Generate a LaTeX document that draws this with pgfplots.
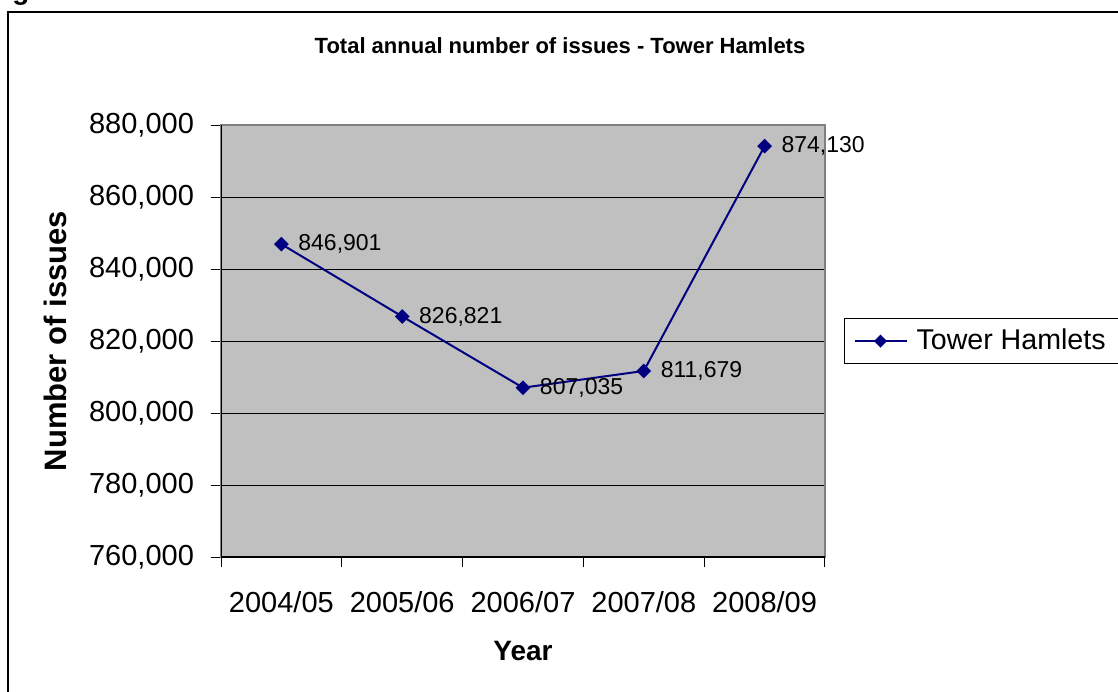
\documentclass[border=0pt]{standalone}
\usepackage{fontspec}
\setmainfont{Liberation Sans}
\usepackage{pgfplots}
\pgfplotsset{compat=1.18}
\definecolor{plotbg}{HTML}{C0C0C0}
\definecolor{series}{HTML}{000080}
\definecolor{frame}{HTML}{808080}
\begin{document}
\begin{tikzpicture}
% page = 1118 x 691 px, 1px = 0.5pt, origin at top-left
\useasboundingbox (0,0) rectangle (559pt,-345.5pt);
\clip (0,0) rectangle (559pt,-345.5pt);
\begin{scope}[x=0.5pt,y=-0.5pt]
  \fill[white] (0,0) rectangle (1118,691);
  \draw[black,line width=1pt] (8,720) -- (8,12) -- (1140,12);
  \node[anchor=base west,inner sep=0pt,font=\bfseries\fontsize{14}{16}\selectfont] at (12,-1) {g};
  \node[font=\bfseries\fontsize{11}{13}\selectfont] at (560,46) {Total annual number of issues - Tower Hamlets};
\end{scope}
\begin{axis}[
    at={(110.5pt,-278.5pt)}, anchor=south west,
    scale only axis, width=302pt, height=216pt,
    /pgf/number format/assume math mode=true,
    /pgf/number format/.cd, fixed, precision=0, 1000 sep={,}, /pgfplots/.cd,
    scaled y ticks=false,
    axis background/.style={fill=plotbg},
    axis line style={draw=frame, line width=0.8pt},
    xmin=0.5, xmax=5.5, ymin=760000, ymax=880000,
    xtick={0.5,1.5,...,5.5}, x tick label as interval,
    xticklabels={2004/05,2005/06,2006/07,2007/08,2008/09},
    ytick={760000,780000,...,880000},
    tick align=outside, xtick pos=lower, ytick pos=left,
    major tick length=5pt,
    tick style={black, line width=0.5pt},
    ymajorgrids, major grid style={black, line width=0.5pt},
    tick label style={font=\fontsize{14.5}{16}\selectfont},
    y tick label style={xshift=-5pt},
    x tick label style={yshift=-8.5pt},
    xlabel={Year}, ylabel={Number of issues},
    xlabel style={at={(axis description cs:0.5,-0.2176)}, anchor=center, font=\bfseries\fontsize{14}{16}\selectfont},
    ylabel style={at={(axis description cs:-0.2748,0.5)}, anchor=center, rotate=0, font=\bfseries\fontsize{15.5}{18}\selectfont},
    legend style={at={(1.0315,0.554)}, anchor=north west, draw=black, line width=0.5pt,
      fill=white, inner xsep=4.5pt, inner ysep=3.5pt,
      font=\fontsize{14.3}{16}\selectfont},
    legend image code/.code={
      \draw[mark repeat=2,mark phase=2,#1,mark size=1.8pt] plot coordinates {(0pt,0pt)(13pt,0pt)(26pt,0pt)};
      \path (28.5pt,0pt);},
    nodes near coords,
    nodes near coords style={anchor=west, inner sep=0pt, xshift=8pt, black, font=\fontsize{11.5}{13}\selectfont},
  ]
  \addplot[series, line width=1pt, mark=square*, mark size=2.1pt, mark options={fill=series, rotate=45}]
    coordinates {(1,846901) (2,826821) (3,807035) (4,811679) (5,874130)};
  \addlegendentry{Tower Hamlets}
  \draw[black, line width=0.8pt] (rel axis cs:0,1) -- (rel axis cs:0,0) -- (rel axis cs:1,0);
\end{axis}
\end{tikzpicture}
\end{document}
